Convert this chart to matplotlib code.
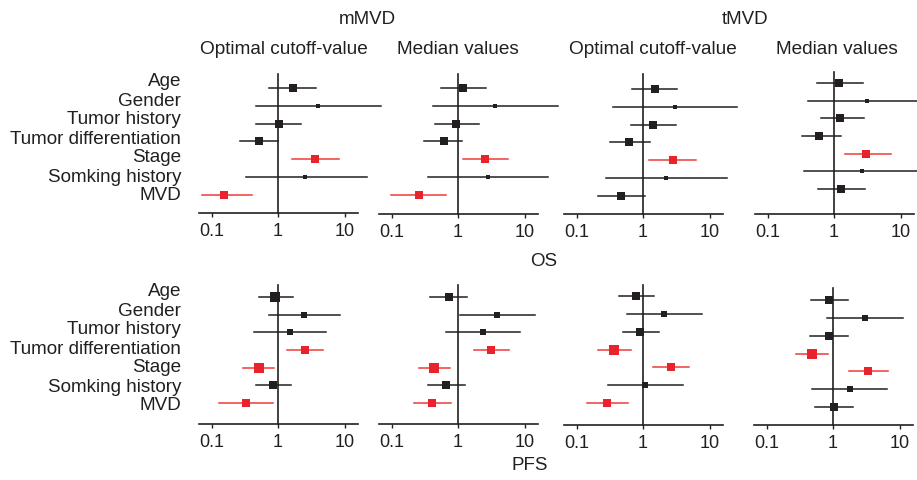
import numpy as np
import matplotlib
matplotlib.use("Agg")
import matplotlib.pyplot as plt

plt.rcParams['font.family'] = ['Liberation Sans', 'DejaVu Sans']

variables = ["Age", "Gender", "Tumor history", "Tumor differentiation",
             "Stage", "Somking history", "MVD"]
groups = ["mMVD", "tMVD"]
methods = ["Optimal cutoff-value", "Median values"]
outcomes = ["OS", "PFS"]
tick_values = [0.1, 1, 10]
tick_labels = ["0.1", "1", "10"]

# OS: hazard ratio, lower CI, upper CI, significant flag
os_mmvd_opt_hr = [1.66, 4.04, 1.03, 0.52, 3.60, 2.55, 0.154]
os_mmvd_opt_lo = [0.74, 0.47, 0.47, 0.27, 1.64, 0.33, 0.073]
os_mmvd_opt_hi = [3.69, 35.0, 2.22, 1.00, 8.30, 21.6, 0.40]
os_mmvd_opt_sig = [0, 0, 0, 0, 1, 0, 1]

os_mmvd_med_hr = [1.18, 3.55, 0.94, 0.61, 2.56, 2.82, 0.257]
os_mmvd_med_lo = [0.55, 0.42, 0.45, 0.31, 1.19, 0.355, 0.099]
os_mmvd_med_hi = [2.60, 31.6, 2.06, 1.16, 5.66, 22.9, 0.67]
os_mmvd_med_sig = [0, 0, 0, 0, 1, 0, 1]

os_tmvd_opt_hr = [1.50, 3.05, 1.42, 0.62, 2.78, 2.23, 0.47]
os_tmvd_opt_lo = [0.68, 0.36, 0.67, 0.316, 1.25, 0.28, 0.21]
os_tmvd_opt_hi = [3.27, 26.3, 3.09, 1.26, 6.20, 18.1, 1.07]
os_tmvd_opt_sig = [0, 0, 0, 0, 1, 0, 0]

os_tmvd_med_hr = [1.20, 3.13, 1.23, 0.60, 3.05, 2.63, 1.28]
os_tmvd_med_lo = [0.56, 0.41, 0.64, 0.33, 1.47, 0.35, 0.57]
os_tmvd_med_hi = [2.72, 30.0, 2.82, 1.26, 7.30, 30.0, 2.88]
os_tmvd_med_sig = [0, 0, 0, 0, 1, 0, 0]

# PFS
pfs_mmvd_opt_hr = [0.91, 2.44, 1.51, 2.53, 0.51, 0.83, 0.33]
pfs_mmvd_opt_lo = [0.52, 0.72, 0.44, 1.38, 0.30, 0.46, 0.128]
pfs_mmvd_opt_hi = [1.66, 8.60, 5.20, 4.75, 0.87, 1.55, 0.83]
pfs_mmvd_opt_sig = [0, 0, 0, 1, 1, 0, 1]

pfs_mmvd_med_hr = [0.73, 3.91, 2.39, 3.18, 0.44, 0.67, 0.40]
pfs_mmvd_med_lo = [0.38, 1.07, 0.66, 1.73, 0.26, 0.35, 0.215]
pfs_mmvd_med_hi = [1.38, 14.4, 8.70, 5.83, 0.77, 1.26, 0.78]
pfs_mmvd_med_sig = [0, 0, 0, 1, 1, 0, 1]

pfs_tmvd_opt_hr = [0.79, 2.08, 0.91, 0.37, 2.68, 1.07, 0.29]
pfs_tmvd_opt_lo = [0.43, 0.58, 0.50, 0.21, 1.43, 0.30, 0.145]
pfs_tmvd_opt_hi = [1.48, 7.60, 1.72, 0.65, 4.90, 3.95, 0.59]
pfs_tmvd_opt_sig = [0, 0, 0, 1, 1, 0, 1]

pfs_tmvd_med_hr = [0.88, 3.00, 0.87, 0.48, 3.41, 1.78, 1.02]
pfs_tmvd_med_lo = [0.47, 0.80, 0.45, 0.28, 1.74, 0.49, 0.54]
pfs_tmvd_med_hi = [1.66, 11.2, 1.66, 0.83, 6.80, 6.50, 2.00]
pfs_tmvd_med_sig = [0, 0, 0, 1, 1, 0, 0]

panels = [
    (os_mmvd_opt_hr, os_mmvd_opt_lo, os_mmvd_opt_hi, os_mmvd_opt_sig),
    (os_mmvd_med_hr, os_mmvd_med_lo, os_mmvd_med_hi, os_mmvd_med_sig),
    (os_tmvd_opt_hr, os_tmvd_opt_lo, os_tmvd_opt_hi, os_tmvd_opt_sig),
    (os_tmvd_med_hr, os_tmvd_med_lo, os_tmvd_med_hi, os_tmvd_med_sig),
    (pfs_mmvd_opt_hr, pfs_mmvd_opt_lo, pfs_mmvd_opt_hi, pfs_mmvd_opt_sig),
    (pfs_mmvd_med_hr, pfs_mmvd_med_lo, pfs_mmvd_med_hi, pfs_mmvd_med_sig),
    (pfs_tmvd_opt_hr, pfs_tmvd_opt_lo, pfs_tmvd_opt_hi, pfs_tmvd_opt_sig),
    (pfs_tmvd_med_hr, pfs_tmvd_med_lo, pfs_tmvd_med_hi, pfs_tmvd_med_sig),
]

W, H = 917, 480
fig = plt.figure(figsize=(W / 100, H / 100), dpi=100)

TXT = "#231f20"
BLK = "#231f20"
RED = "#e8232b"
RED_LINE = "#ee3b36"
XMIN, XMAX = 0.065, 16.0

# layout (pixels): x position of "1", row of Age, row of MVD, spine, top
one_px = [278, 458, 643, 834, 278, 458, 643, 833]
layout = [
    (88, 195, 213, 74), (88, 195, 214, 74), (89, 196, 214, 74), (83, 189, 214, 72),
    (297, 403, 424, 285), (297, 403, 424, 285), (296, 403, 425, 285), (300, 407, 425, 288),
]
decade_px = 66.5

for i, (hr, lo, hi, sig) in enumerate(panels):
    age_px, mvd_px, spine_px, top_px = layout[i]
    left_px = one_px[i] - np.log10(1 / XMIN) * decade_px
    width_px = np.log10(XMAX / XMIN) * decade_px
    ax = fig.add_axes([left_px / W, 1 - spine_px / H, width_px / W, (spine_px - top_px) / H])
    step = (mvd_px - age_px) / 6.0
    y_bottom = (spine_px - age_px) / step
    y_top = (top_px - age_px) / step
    ax.set_xscale("log")
    ax.set_xlim(XMIN, XMAX)
    ax.set_ylim(y_bottom, y_top)
    ax.plot([1, 1], [y_bottom, y_top], color=BLK, lw=1.2, zorder=1, clip_on=False)
    for j in range(len(variables)):
        red = sig[j] == 1
        lc = RED_LINE if red else BLK
        mc = RED if red else BLK
        ax.plot([lo[j], hi[j]], [j, j], color=lc, lw=1.1, zorder=2, clip_on=False)
        width = np.log10(min(hi[j], 40) / lo[j])
        size_px = max(6.4 / np.sqrt(width), 4.8)
        ax.plot([hr[j]], [j], marker="s", ms=size_px * 0.72, color=mc,
                mec=mc, mew=0, zorder=3, clip_on=False)
    for s in ["top", "right", "left"]:
        ax.spines[s].set_visible(False)
    ax.spines["bottom"].set_linewidth(1.2)
    ax.spines["bottom"].set_color(BLK)
    ax.set_yticks([])
    ax.set_xticks(tick_values)
    ax.set_xticklabels(tick_labels)
    ax.xaxis.set_minor_locator(matplotlib.ticker.NullLocator())
    ax.tick_params(axis="x", length=3, width=1.0, color=BLK, pad=4.5,
                   labelsize=13, labelcolor=TXT)
    ax.patch.set_alpha(0)

# variable labels
label_rows = [(82, 19.0), (292, 19.0)]
for (y0, dy) in label_rows:
    for j, v in enumerate(variables):
        fig.text(181 / W, 1 - (y0 + j * dy) / H, v, ha="right", va="center",
                 fontsize=13.6, color=TXT)

# headers
header_x = [284, 458, 653, 837]
for k, hx in enumerate(header_x):
    fig.text(hx / W, 1 - 50 / H, methods[k % 2], ha="center", va="center",
             fontsize=13.7, color=TXT)
fig.text(367 / W, 1 - 20 / H, groups[0], ha="center", va="center", fontsize=13.5, color=TXT)
fig.text(745 / W, 1 - 20 / H, groups[1], ha="center", va="center", fontsize=13.5, color=TXT)
fig.text(544 / W, 1 - 262 / H, outcomes[0], ha="center", va="center", fontsize=13.5, color=TXT)
fig.text(530 / W, 1 - 465 / H, outcomes[1], ha="center", va="center", fontsize=13.5, color=TXT)

fig.savefig("out.png", dpi=100)
